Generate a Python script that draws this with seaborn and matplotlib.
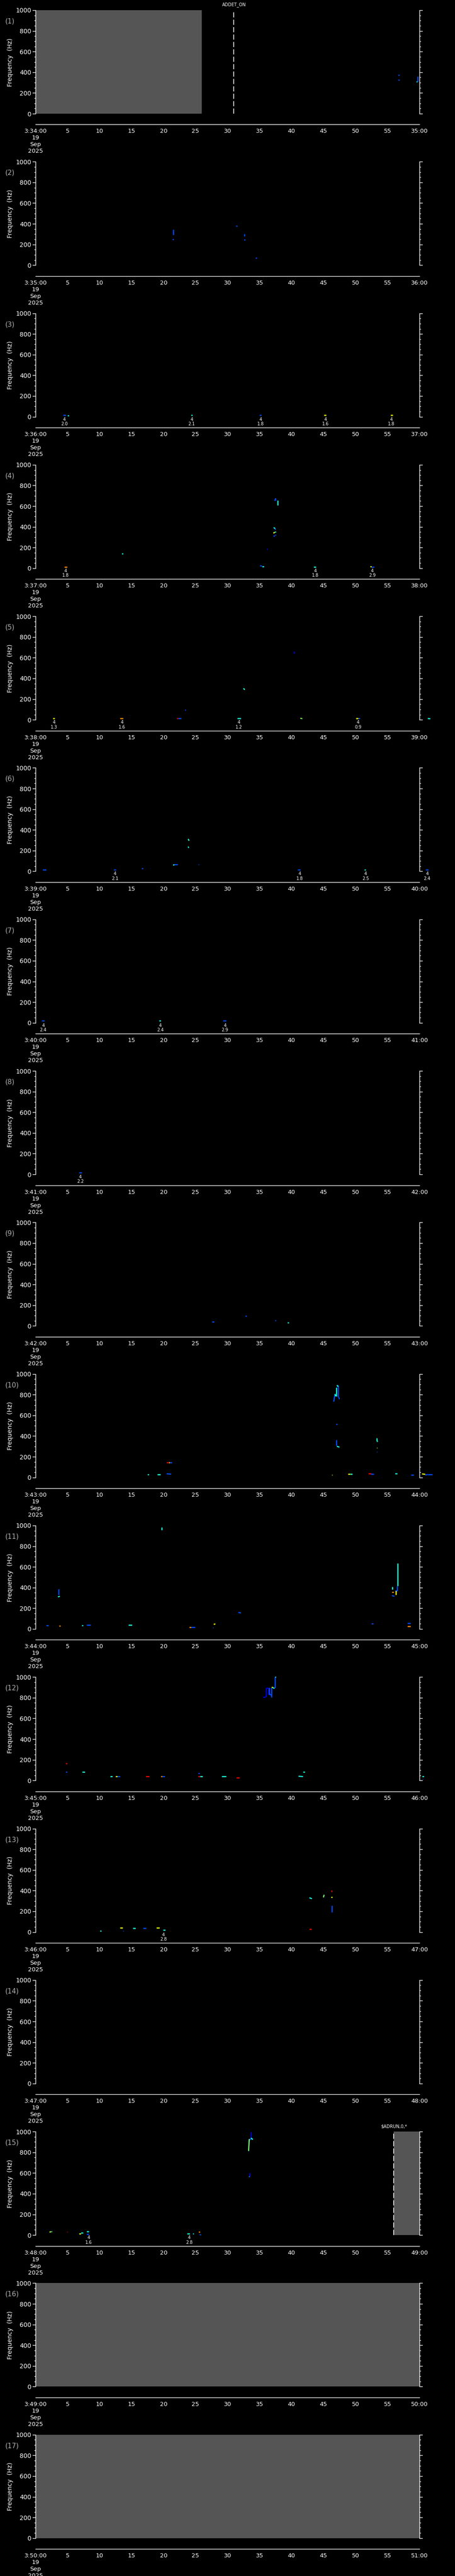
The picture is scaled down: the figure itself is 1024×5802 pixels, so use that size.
import matplotlib
matplotlib.use('Agg')
import matplotlib.pyplot as plt
from matplotlib.ticker import MultipleLocator
import pandas as pd
import seaborn as sns

sns.set_style('dark')
plt.rcParams['font.family'] = ['Liberation Sans Narrow', 'DejaVu Sans']

# intensity levels (jet colour scale)
DB, B, C, G, Y, O, R = 0.08, 0.2, 0.38, 0.5, 0.64, 0.76, 0.9

n_panels = 17
start_min = [34 + i for i in range(n_panels)]

# marks: (t0, t1, f0, f1, level)
m01 = [(56.7, 56.9, 372, 372, B), (56.7, 56.9, 326, 326, B), (59.7, 59.7, 362, 308, B),
       (59.5, 59.65, 311, 311, C)]
m02 = [(21.5, 21.5, 346, 293, B), (21.4, 21.6, 251, 251, B), (31.3, 31.5, 380, 380, B),
       (32.65, 32.65, 300, 279, B), (32.6, 32.8, 247, 247, B), (34.4, 34.6, 70, 70, B)]
m03 = [(4.3, 4.7, 16, 16, B), (5.0, 5.2, 13, 13, C), (24.3, 24.5, 16, 16, C),
       (35.0, 35.3, 16, 16, B), (45.1, 45.4, 16, 16, Y), (55.5, 55.8, 16, 16, Y)]
m04 = [(4.5, 4.9, 13, 13, O), (13.5, 13.7, 142, 142, C), (35.1, 35.4, 25, 20, B),
       (35.4, 35.7, 17, 17, C), (36.2, 36.25, 188, 180, DB), (37.88, 37.88, 656, 610, C),
       (37.5, 37.55, 678, 654, B), (37.3, 37.5, 660, 656, B), (37.2, 37.45, 393, 385, C),
       (37.45, 37.5, 385, 370, B), (37.2, 37.35, 337, 350, Y), (37.35, 37.6, 350, 350, C),
       (37.2, 37.4, 307, 315, B), (37.4, 37.6, 320, 320, B), (43.5, 43.8, 13, 13, C),
       (52.3, 52.5, 16, 16, Y), (52.5, 52.9, 13, 13, B)]
m05 = [(2.7, 3.0, 12, 12, Y), (13.2, 13.7, 12, 12, O), (22.1, 22.3, 15, 15, R),
       (22.3, 22.8, 12, 12, B), (23.3, 23.5, 95, 95, B), (31.5, 32.1, 12, 12, C),
       (32.5, 32.7, 304, 290, C), (40.4, 40.4, 662, 640, DB), (41.4, 41.55, 15, 12, Y),
       (41.55, 41.7, 12, 12, C), (50.1, 50.4, 12, 12, Y), (50.4, 50.7, 12, 12, B),
       (61.3, 61.7, 12, 10, C)]
m06 = [(1.1, 1.7, 15, 15, B), (12.2, 12.6, 15, 15, B), (16.6, 16.8, 28, 28, B),
       (21.5, 21.7, 58, 65, C), (21.7, 22.2, 65, 65, B), (23.85, 24.0, 313, 295, C),
       (23.85, 23.95, 239, 226, C), (25.5, 25.55, 62, 66, B), (41.0, 41.4, 15, 15, B),
       (51.4, 51.6, 15, 15, C), (61.0, 61.4, 15, 15, B)]
m07 = [(1.0, 1.4, 19, 19, B), (19.3, 19.6, 19, 19, C), (29.3, 29.8, 19, 19, B)]
m08 = [(6.8, 7.2, 16, 16, B)]
m09 = [(27.6, 27.9, 40, 40, B), (32.8, 33.0, 95, 95, B), (37.4, 37.6, 55, 55, B),
       (39.4, 39.6, 30, 30, C)]
m10 = [(17.5, 17.7, 28, 28, C), (19.0, 19.5, 28, 28, C), (20.5, 20.8, 144, 144, R),
       (20.8, 21.0, 144, 144, Y), (21.0, 21.3, 144, 144, B), (20.5, 21.2, 35, 32, B),
       (46.3, 46.4, 24, 24, Y), (46.6, 46.8, 732, 803, B), (46.8, 46.9, 807, 784, C),
       (47.0, 47.0, 784, 868, C), (47.1, 47.3, 891, 878, C), (47.3, 47.3, 891, 775, B),
       (47.4, 47.5, 775, 756, B), (47.0, 47.2, 510, 516, B), (47.0, 47.0, 362, 306, B),
       (47.1, 47.5, 300, 293, C), (48.8, 49.2, 34, 34, Y), (49.2, 49.5, 34, 34, C),
       (52.0, 52.4, 37, 37, R), (52.4, 52.9, 32, 30, B), (53.3, 53.3, 381, 349, C),
       (53.3, 53.45, 349, 349, C), (53.3, 53.4, 287, 287, Y), (53.3, 53.4, 246, 246, B),
       (56.2, 56.5, 37, 37, C), (58.7, 59.1, 24, 24, B), (60.4, 60.9, 34, 30, Y),
       (60.9, 61.3, 24, 28, B), (61.3, 62.0, 30, 30, B)]
m11 = [(1.7, 2.0, 36, 36, B), (3.6, 3.6, 388, 330, B), (3.5, 3.8, 310, 316, C),
       (3.7, 3.9, 30, 30, O), (7.2, 7.4, 32, 32, C), (8.0, 8.6, 39, 39, B),
       (14.5, 15.1, 39, 39, C), (19.7, 19.7, 981, 955, C), (24.0, 24.3, 19, 19, O),
       (24.3, 24.9, 19, 19, B), (27.7, 27.75, 11, 11, B), (27.85, 28.1, 44, 49, Y),
       (31.7, 32.1, 159, 155, B), (52.5, 52.8, 52, 52, B), (55.75, 55.75, 406, 382, C),
       (55.7, 56.0, 354, 354, O), (55.7, 56.1, 322, 316, B), (56.3, 56.3, 369, 331, Y),
       (56.5, 56.5, 416, 369, B), (56.2, 56.5, 369, 369, B), (56.6, 56.6, 637, 416, C),
       (58.1, 58.6, 54, 54, B), (58.1, 58.6, 26, 26, O)]
m12 = [(4.7, 4.9, 163, 163, R), (4.7, 4.9, 82, 82, B), (7.3, 7.7, 84, 84, C),
       (11.7, 12.0, 41, 41, C), (12.5, 12.8, 41, 41, Y), (12.8, 13.2, 41, 41, B),
       (17.2, 17.8, 41, 41, R), (19.6, 19.8, 38, 38, O), (19.8, 20.2, 41, 41, B),
       (25.45, 25.6, 69, 69, B), (25.45, 25.7, 41, 41, R), (25.7, 26.1, 38, 38, C),
       (29.1, 29.8, 38, 38, C), (31.4, 31.9, 28, 28, R), (35.6, 36.0, 803, 807, DB),
       (36.05, 36.05, 807, 893, DB), (36.05, 36.4, 893, 893, DB), (36.4, 36.4, 893, 831, DB),
       (36.55, 36.55, 900, 831, B), (36.55, 36.85, 840, 822, B), (36.9, 36.9, 803, 897, B),
       (36.9, 37.1, 902, 902, Y), (37.1, 37.35, 897, 890, C), (37.45, 37.45, 893, 1000, B),
       (37.45, 37.6, 1000, 1000, C), (41.1, 41.8, 41, 38, C), (41.8, 42.1, 84, 84, C),
       (60.4, 60.7, 41, 41, C), (60.5, 60.55, 15, 15, B)]
m13 = [(10.1, 10.3, 13, 13, C), (13.2, 13.6, 41, 41, Y), (13.65, 13.75, 13, 13, B),
       (15.2, 15.6, 36, 36, C), (16.8, 17.3, 36, 36, B), (18.9, 19.4, 41, 41, Y),
       (19.9, 20.3, 19, 19, C), (42.8, 43.1, 28, 28, R), (42.8, 43.2, 331, 322, C),
       (45.0, 45.1, 335, 360, G), (46.3, 46.35, 401, 386, R), (46.2, 46.4, 337, 337, Y),
       (46.3, 46.3, 257, 191, B)]
m14 = []
m15 = [(2.2, 2.4, 27, 34, Y), (2.4, 2.6, 34, 34, C), (4.9, 5.0, 29, 29, R),
       (6.8, 7.1, 14, 14, Y), (7.1, 7.4, 24, 24, C), (8.0, 8.3, 36, 36, C),
       (8.0, 8.3, 10, 10, B), (23.7, 24.1, 14, 14, C), (24.6, 24.7, 14, 14, C),
       (25.5, 25.7, 32, 32, O), (25.6, 25.8, 6, 6, B), (33.3, 33.4, 813, 928, G),
       (33.4, 33.65, 928, 928, B), (33.65, 33.65, 928, 997, DB), (33.65, 33.97, 938, 924, C),
       (33.25, 33.35, 818, 818, B), (33.45, 33.45, 601, 562, DB), (33.3, 33.4, 565, 565, C)]
m16 = []
m17 = []
marks = [m01, m02, m03, m04, m05, m06, m07, m08, m09, m10, m11, m12, m13, m14, m15, m16, m17]

# event annotations below the plot: panel -> (times, magnitudes)
ann_t = {3: [4.5, 24.4, 35.2, 45.3, 55.6], 4: [4.7, 43.7, 52.6], 5: [2.9, 13.5, 31.8, 50.4],
         6: [12.4, 41.3, 51.6, 61.2], 7: [1.2, 19.5, 29.6], 8: [7.0], 13: [20.0], 15: [8.3, 24.0]}
ann_m = {3: ['2.0', '2.1', '1.8', '1.6', '1.8'], 4: ['1.8', '1.8', '2.9'],
         5: ['1.3', '1.6', '1.2', '0.9'], 6: ['2.1', '1.8', '2.5', '2.4'],
         7: ['2.4', '2.4', '2.9'], 8: ['2.2'], 13: ['2.8'], 15: ['1.6', '2.8']}

# no-data intervals and event markers
gap_panel = [1, 15, 16, 17]
gap_t0 = [0, 56, 0, 0]
gap_t1 = [26, 60, 60, 60]
evt_panel = [1, 15]
evt_t = [31.0, 56.0]
evt_label = ['ADDET_ON', '$ADRUN,0,*']

cmap = matplotlib.colormaps['jet']
W, H = 1024, 5802
step = H / n_panels
fig = plt.figure(figsize=(W / 100, H / 100), dpi=100, facecolor='black')

for i in range(n_panels):
    p = i + 1
    top = 23 + step * i
    ax = fig.add_axes([80 / W, 1 - (top + 233) / H, 864 / W, 233 / H])
    ax.set_facecolor('black')
    ax.grid(False)

    for k, pp in enumerate(gap_panel):
        if pp == p:
            ax.axvspan(gap_t0[k], gap_t1[k], color='#555555', lw=0, zorder=0)

    rows = []
    for s, (t0, t1, f0, f1, lv) in enumerate(marks[i]):
        rows.append({'t': t0, 'f': f0, 'seg': s, 'lvl': lv})
        rows.append({'t': t1, 'f': f1, 'seg': s, 'lvl': lv})
    if rows:
        df = pd.DataFrame(rows)
        sns.lineplot(data=df, x='t', y='f', hue='lvl', units='seg', estimator=None,
                     sort=False, palette=cmap, hue_norm=(0, 1), legend=False,
                     lw=1.8, solid_capstyle='butt', ax=ax)
        for ln in ax.lines:
            ln.set_clip_on(False)

    for k, pp in enumerate(evt_panel):
        if pp == p:
            ax.axvline(evt_t[k], color='white', lw=1.2, dashes=(7, 3))
            ax.annotate(evt_label[k], xy=(evt_t[k], 1), xycoords=('data', 'axes fraction'),
                        xytext=(0, 12), textcoords='offset pixels', ha='center', va='center',
                        fontsize=7, color='white', annotation_clip=False)

    for t, mg in zip(ann_t.get(p, []), ann_m.get(p, [])):
        ax.annotate('4\n' + mg, xy=(t, 0), xycoords=('data', 'axes fraction'),
                    xytext=(0, -1), textcoords='offset pixels', ha='center', va='top',
                    fontsize=7, color='white', linespacing=1.05, annotation_clip=False)

    ax.set_xlim(0, 60)
    ax.set_ylim(0, 1000)
    ax.set_xlabel('')
    ax.set_ylabel('')
    ax.set_xticks(range(0, 61, 5))
    ax.xaxis.set_minor_locator(MultipleLocator(1))
    xl = [str(v) for v in range(0, 61, 5)]
    xl[0] = '3:%d:00\n19\nSep\n2025' % start_min[i]
    xl[-1] = '%d:00' % (start_min[i] + 1)
    ax.set_xticklabels(xl, linespacing=0.7)
    ax.set_yticks(range(0, 1001, 200))
    ax.yaxis.set_minor_locator(MultipleLocator(50))

    ax.spines['top'].set_visible(False)
    for side in ['left', 'right', 'bottom']:
        ax.spines[side].set_visible(True)
        ax.spines[side].set_color('white')
        ax.spines[side].set_linewidth(1.0)
    ax.spines['bottom'].set_position(('outward', 17.6))

    ax.tick_params(axis='both', which='both', colors='white', direction='out', width=1.0)
    ax.tick_params(axis='y', which='major', length=5, right=True, left=True, labelsize=10, pad=2)
    ax.tick_params(axis='y', which='minor', length=2.5, right=True, left=True)
    ax.tick_params(axis='x', which='major', length=3.5, labelsize=9.5, pad=3)
    ax.tick_params(axis='x', which='minor', length=2.5)

    fig.text(12 / W, 1 - (top + 25) / H, '(%d)' % p, color='#b0b0b0', fontsize=11,
             ha='left', va='center')
    fig.text(23 / W, 1 - (top + 117) / H, 'Frequency  (Hz)', color='white', fontsize=10,
             rotation=90, ha='center', va='center')

plt.savefig('out.png', dpi=100, facecolor='black')
